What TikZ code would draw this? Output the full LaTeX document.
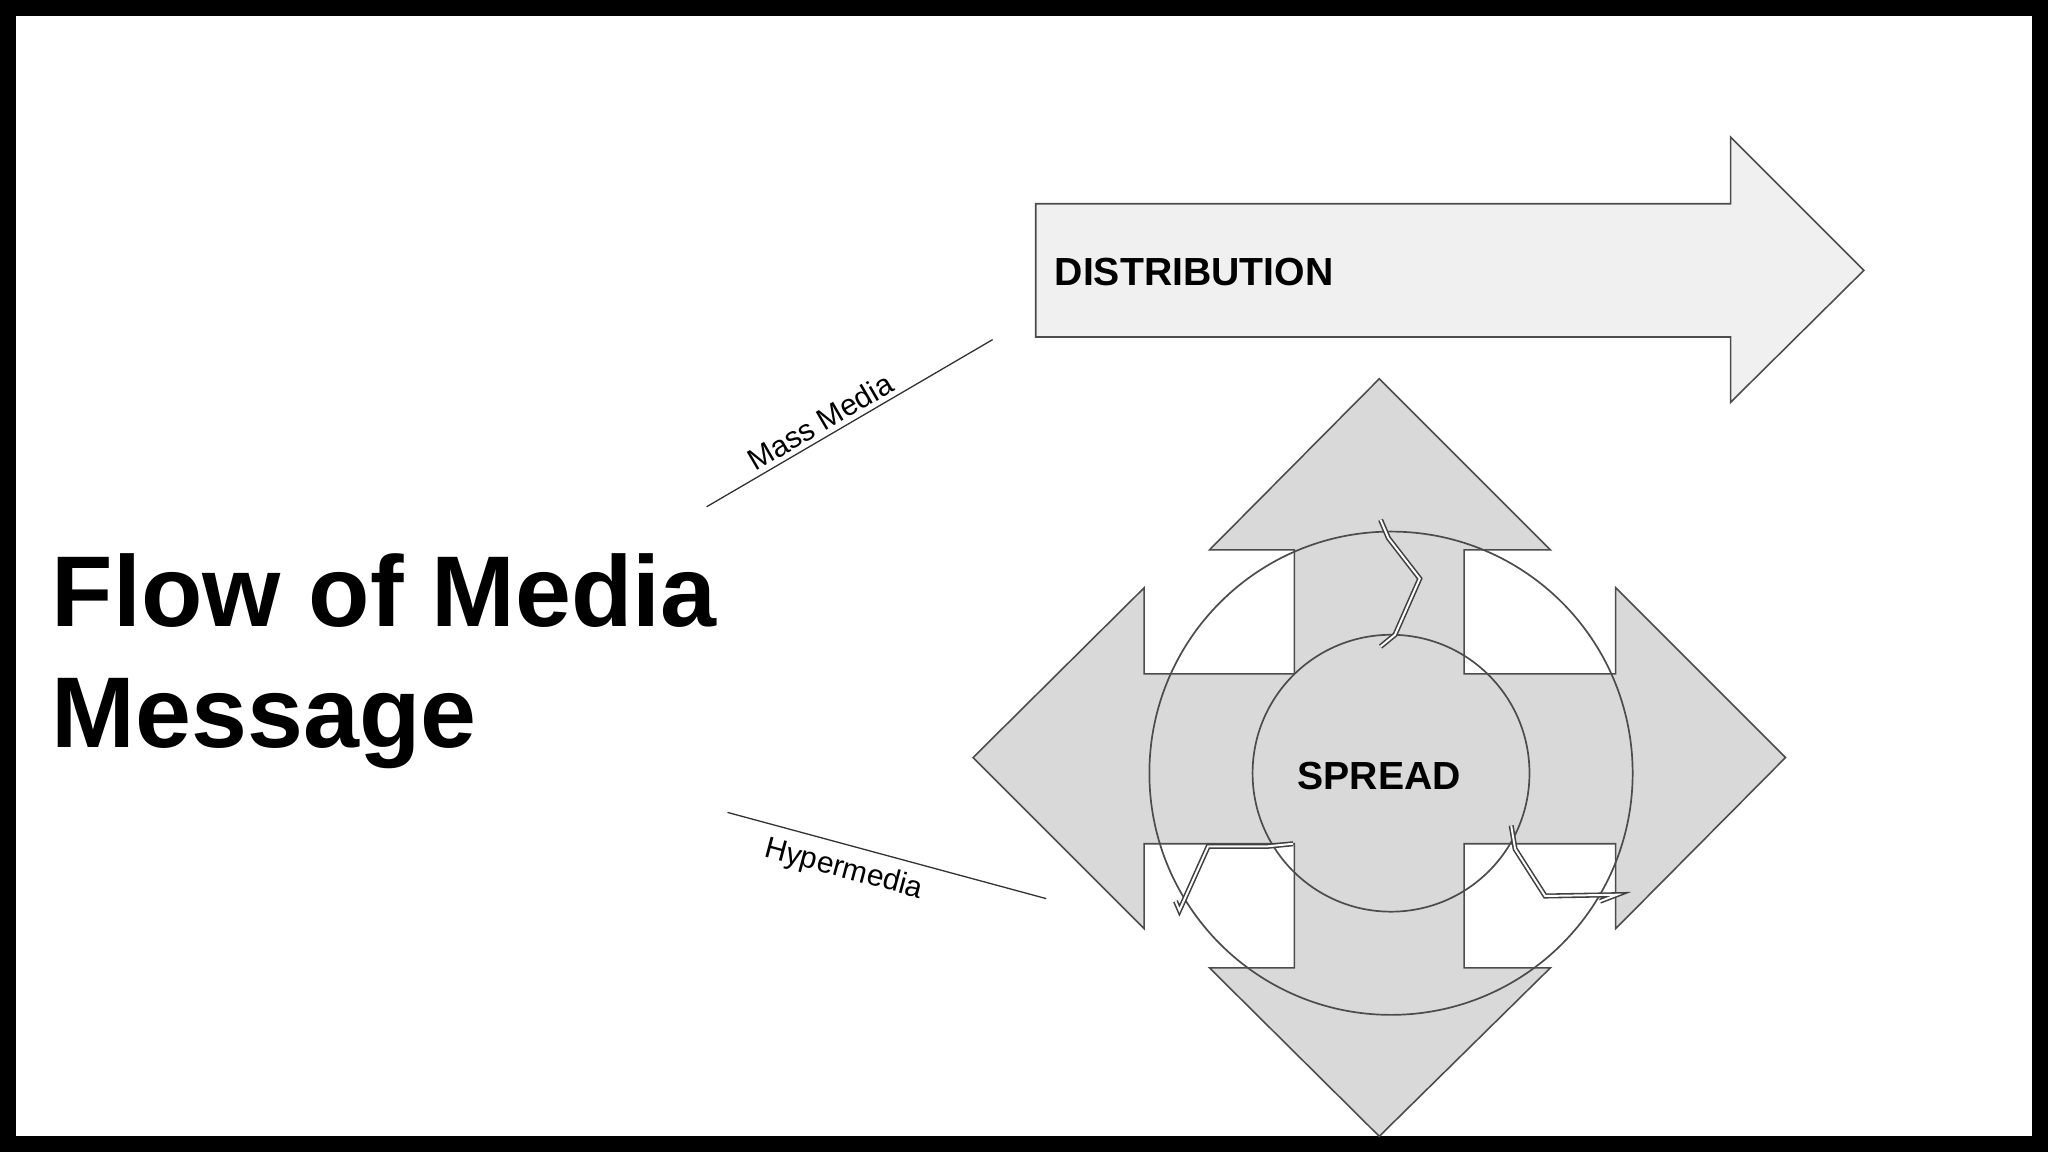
\documentclass[tikz,border=0pt]{standalone}
\usepackage{fontspec}
\setmainfont{Liberation Sans}
\begin{document}
\begin{tikzpicture}[x=1pt,y=-1pt,
  shp/.style={draw=black!70,line width=1.2pt},
  jag/.style={draw=black!75,double=white,double distance=1.5pt,line width=1.2pt,line join=miter}]
\fill[black] (0,0) rectangle (1568,882);
\fill[white] (12,12) rectangle (1556,870);
\useasboundingbox (0,0) rectangle (1568,882);
% distribution arrow
\draw[shp,fill=black!6] (793,156) -- (1325,156) -- (1325,105) -- (1427,207) -- (1325,308) -- (1325,258) -- (793,258) -- cycle;
\node[anchor=west,font=\fontsize{30}{34}\selectfont\bfseries] (dist) at (804,208) {DISTRIBUTION};
% four-way arrow
\draw[shp,fill=black!15] (1056,290) -- (1187,421) -- (1121,421) -- (1121,516) -- (1237,516) -- (1237,450) -- (1367,580)
  -- (1237,711) -- (1237,646) -- (1121,646) -- (1121,741) -- (1187,741) -- (1056,870) -- (926,741) -- (991,741)
  -- (991,646) -- (876,646) -- (876,711) -- (745,580) -- (876,450) -- (876,516) -- (991,516) -- (991,421) -- (926,421) -- cycle;
% cycle
\draw[shp,line width=1.3pt] (1065,592) circle (185);
\draw[shp,line width=1.3pt] (1065,592) circle (106);
\draw[jag] (1057,398) -- (1063,412) -- (1087,443) -- (1068,486) -- (1057,495);
\draw[jag] (1157,632) -- (1160,650) -- (1183,686) -- (1238,685) -- (1225,690);
\draw[jag] (990,646) -- (970,648) -- (925,648) -- (903,697) -- (900,690);
\node[font=\fontsize{30}{34}\selectfont\bfseries] (spread) at (1056,594) {SPREAD};
% title
\node[anchor=base west,font=\fontsize{77}{92}\selectfont\bfseries] (t1) at (36,480) {Flow of Media};
\node[anchor=base west,font=\fontsize{77}{92}\selectfont\bfseries] (t2) at (36,572) {Message};
% labels
\coordinate (m1) at (541,388); \coordinate (m2) at (760,260);
\draw[black!80,line width=1pt] (m1) -- (m2);
\node[font=\fontsize{23}{26}\selectfont,rotate=30.3] (mm) at (628,323) {Mass Media};
\coordinate (h1) at (557,622); \coordinate (h2) at (801,688);
\draw[black!80,line width=1pt] (h1) -- (h2);
\node[font=\fontsize{23}{26}\selectfont,rotate=-15] (hm) at (646,666) {Hypermedia};
\end{tikzpicture}
\end{document}
